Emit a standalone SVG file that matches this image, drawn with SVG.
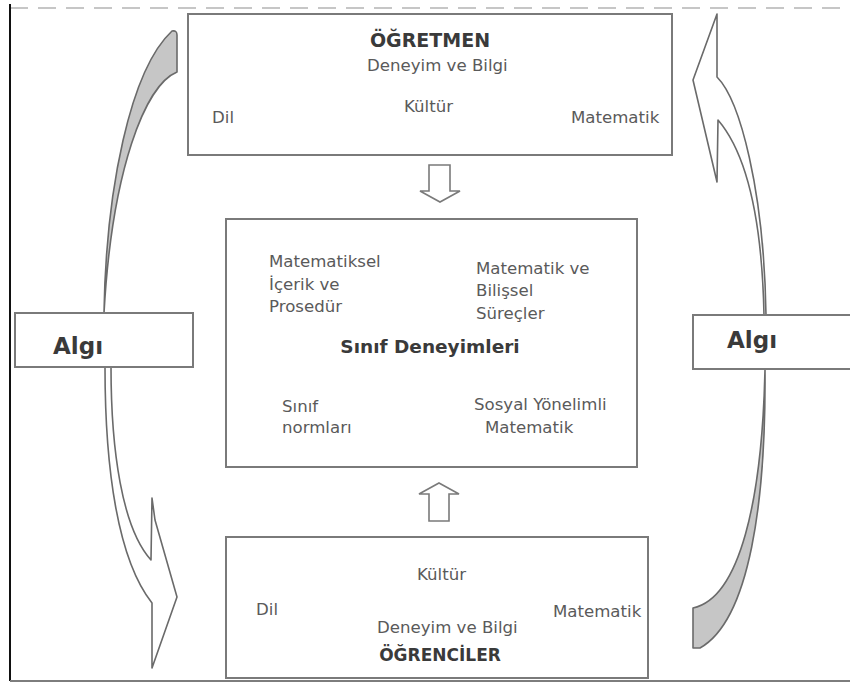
<svg xmlns="http://www.w3.org/2000/svg" width="850" height="684" viewBox="0 0 850 684">
  <style>
    .box { fill: #ffffff; stroke: #7a7a7a; stroke-width: 2; }
    .t { font-family: "DejaVu Sans", "Liberation Sans", sans-serif; font-size: 16.6px; fill: #5a5a5a; }
    .b { font-family: "DejaVu Sans", "Liberation Sans", sans-serif; font-weight: bold; fill: #3a3a3a; }
    .arrow { fill: #ffffff; stroke: #6a6a6a; stroke-width: 1.6; stroke-linejoin: round; }
    .crescent { fill: #c6c6c6; stroke: #6a6a6a; stroke-width: 1.6; stroke-linejoin: round; }
    .block { fill: #ffffff; stroke: #7a7a7a; stroke-width: 1.6; }
  </style>
  <rect width="850" height="684" fill="#ffffff"/>

  <!-- page frame -->
  <g id="frame">
    <line x1="10" y1="8" x2="850" y2="8" stroke="#b4b4b4" stroke-width="1.6" stroke-dasharray="18 10"/>
    <line x1="10" y1="4" x2="10" y2="681" stroke="#111111" stroke-width="2"/>
    <line x1="10" y1="681" x2="850" y2="681" stroke="#7d7d7d" stroke-width="2"/>
  </g>

  <!-- connectors: perception cycle and flow into the classroom -->
  <g id="connectors">
    <!-- left side: teacher -> perception -> students -->
    <path class="crescent" d="M172,31 Q177,30 177,35 L177,72 C145,85 112,170 104,313 C106,190 130,70 172,31 Z"/>
    <path class="arrow" d="M105,367 C105,470 118,560 152,603 L152,668 L177,597 L155,520 L152,498 L151,560 C122,528 111,450 111,367 Z"/>
    <!-- right side: students -> perception -> teacher -->
    <path class="arrow" d="M717,14 L717,77 C740,100 764,190 766,315 L764,315 C762,220 748,155 718,120 L717,182 L693,80 Z"/>
    <path class="crescent" d="M765,370 C766,500 750,620 700,648 L693,648 L693,608 C740,598 762,500 765,370 Z"/>
    <!-- block arrows into the classroom box -->
    <path class="block" d="M429,165 H450 V191 H460 L440,202 L420,191 H429 Z"/>
    <path class="block" d="M439,483 L459,494 H449 V521 H429 V494 H419 Z"/>
  </g>

  <g id="teacher">
    <rect class="box" x="188" y="14" width="484" height="141"/>
    <text class="b" x="430" y="47" font-size="19" text-anchor="middle">ÖĞRETMEN</text>
    <text class="t" x="367" y="71">Deneyim ve Bilgi</text>
    <text class="t" x="404" y="112">Kültür</text>
    <text class="t" x="212" y="123">Dil</text>
    <text class="t" x="571" y="123">Matematik</text>
  </g>

  <g id="classroom">
    <rect class="box" x="226" y="219" width="411" height="248"/>
    <text class="t" x="269" y="267">Matematiksel</text>
    <text class="t" x="269" y="290">İçerik ve</text>
    <text class="t" x="269" y="312">Prosedür</text>
    <text class="t" x="476" y="274">Matematik ve</text>
    <text class="t" x="476" y="296">Bilişsel</text>
    <text class="t" x="476" y="319">Süreçler</text>
    <text class="b" x="430" y="353" font-size="18.5" text-anchor="middle">Sınıf Deneyimleri</text>
    <text class="t" x="282" y="412">Sınıf</text>
    <text class="t" x="282" y="433">normları</text>
    <text class="t" x="474" y="410">Sosyal Yönelimli</text>
    <text class="t" x="485" y="433">Matematik</text>
  </g>

  <g id="students">
    <rect class="box" x="226" y="537" width="422" height="141"/>
    <text class="t" x="417" y="580">Kültür</text>
    <text class="t" x="256" y="615">Dil</text>
    <text class="t" x="553" y="617">Matematik</text>
    <text class="t" x="377" y="633" font-size="15.4">Deneyim ve Bilgi</text>
    <text class="b" x="440" y="661" font-size="17" text-anchor="middle">ÖĞRENCİLER</text>
  </g>

  <g id="perception-left">
    <rect class="box" x="15" y="313" width="178" height="54"/>
    <text class="b" x="53" y="354" font-size="23">Algı</text>
  </g>

  <g id="perception-right">
    <rect class="box" x="693" y="315" width="162" height="54"/>
    <text class="b" x="727" y="348" font-size="23">Algı</text>
  </g>
</svg>
